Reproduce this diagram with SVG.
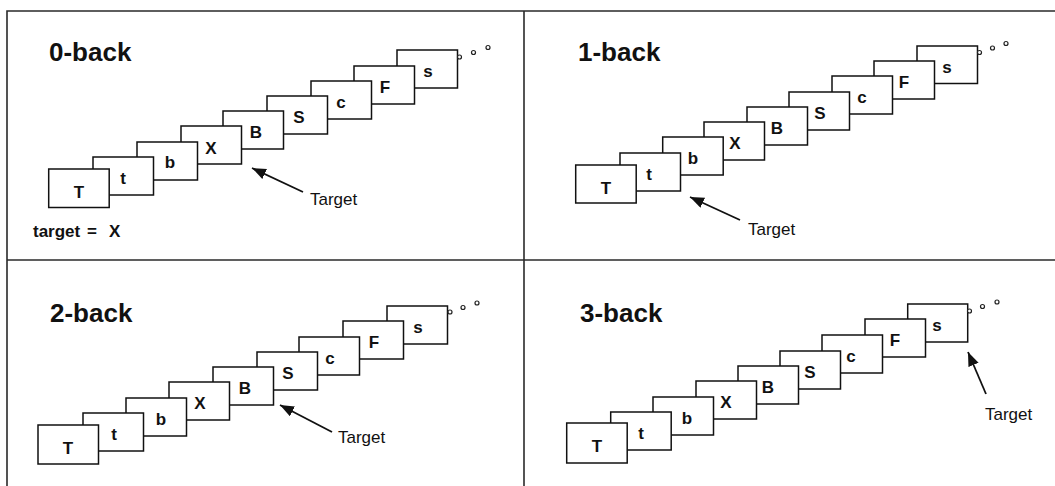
<svg xmlns="http://www.w3.org/2000/svg" width="1055" height="486" viewBox="0 0 1055 486">
<style>
.frame{stroke:#2a2a2a;stroke-width:1.6;fill:none}
.card{fill:#fff;stroke:#111;stroke-width:1.5}
.ltr{font-family:"Liberation Sans",Arial,sans-serif;font-weight:bold;font-size:17px;fill:#111;text-anchor:middle}
.title{font-family:"Liberation Sans",Arial,sans-serif;font-weight:bold;font-size:26px;fill:#111}
.lbl{font-family:"Liberation Sans",Arial,sans-serif;font-size:17px;fill:#111}
.tgt{font-family:"Liberation Sans",Arial,sans-serif;font-weight:bold;font-size:17px;fill:#111}
.dot{fill:#fff;stroke:#222;stroke-width:1.2}
.arrow{stroke:#111;stroke-width:1.8;fill:none;marker-end:url(#ah)}
</style>
<defs>
<marker id="ah" markerUnits="userSpaceOnUse" markerWidth="15" markerHeight="12" refX="14" refY="5.5" orient="auto">
<path d="M0,0 L14,5.5 L0,11 z" fill="#111"/>
</marker>
</defs>
<rect x="0" y="0" width="1055" height="486" fill="#fff"/>
<g id="frame">
<path class="frame" d="M7,486 V11 H1055"/>
<path class="frame" d="M7,260 H1055"/>
<path class="frame" d="M524,11 V486"/>
</g>

<!-- Panel 1: 0-back -->
<g id="p1">
<text class="title" x="49" y="61">0-back</text>
<g id="p1-s"><rect class="card" x="397" y="50" width="60.5" height="38"/><text class="ltr" x="428" y="77">s</text></g>
<g id="p1-F"><rect class="card" x="354" y="66" width="60.5" height="38"/><text class="ltr" x="385" y="93">F</text></g>
<g id="p1-c"><rect class="card" x="311" y="81" width="60.5" height="38"/><text class="ltr" x="341" y="108">c</text></g>
<g id="p1-S"><rect class="card" x="267" y="96" width="60.5" height="38"/><text class="ltr" x="299" y="123">S</text></g>
<g id="p1-B"><rect class="card" x="223" y="111" width="60.5" height="38"/><text class="ltr" x="256" y="138">B</text></g>
<g id="p1-X"><rect class="card" x="181" y="126" width="60.5" height="38"/><text class="ltr" x="211" y="154">X</text></g>
<g id="p1-b"><rect class="card" x="137" y="142" width="60.5" height="38"/><text class="ltr" x="170" y="168">b</text></g>
<g id="p1-t"><rect class="card" x="93" y="157" width="60.5" height="38"/><text class="ltr" x="123" y="184">t</text></g>
<g id="p1-T"><rect class="card" x="48.7" y="169" width="60.5" height="38.5"/><text class="ltr" x="79" y="198">T</text></g>
<g id="p1-dots"><circle class="dot" cx="459.5" cy="57" r="2"/><circle class="dot" cx="473.5" cy="52.5" r="2"/><circle class="dot" cx="488" cy="47.5" r="2"/></g>
<text class="lbl" x="310" y="205">Target</text>
<text class="tgt" x="33" y="237"><tspan x="33">target </tspan><tspan x="87">= </tspan><tspan x="109">X</tspan></text>
</g>

<!-- Panel 2: 1-back -->
<g id="p2">
<text class="title" x="578" y="61">1-back</text>
<g id="p2-s"><rect class="card" x="917" y="46" width="60.5" height="37.5"/><text class="ltr" x="947" y="73">s</text></g>
<g id="p2-F"><rect class="card" x="874" y="61" width="60.5" height="38"/><text class="ltr" x="904" y="88">F</text></g>
<g id="p2-c"><rect class="card" x="832" y="76" width="60.5" height="38"/><text class="ltr" x="862" y="103">c</text></g>
<g id="p2-S"><rect class="card" x="789" y="92" width="60.5" height="38"/><text class="ltr" x="820" y="119">S</text></g>
<g id="p2-B"><rect class="card" x="747" y="107" width="60.5" height="38"/><text class="ltr" x="777" y="134">B</text></g>
<g id="p2-X"><rect class="card" x="704" y="122" width="60.5" height="38"/><text class="ltr" x="735" y="149">X</text></g>
<g id="p2-b"><rect class="card" x="662.7" y="137" width="60.5" height="38"/><text class="ltr" x="693" y="164">b</text></g>
<g id="p2-t"><rect class="card" x="620" y="153" width="60.5" height="38"/><text class="ltr" x="649" y="180">t</text></g>
<g id="p2-T"><rect class="card" x="575.7" y="165" width="60.5" height="38"/><text class="ltr" x="606" y="194">T</text></g>
<g id="p2-dots"><circle class="dot" cx="979.5" cy="52.5" r="2"/><circle class="dot" cx="992.5" cy="48" r="2"/><circle class="dot" cx="1006" cy="43.5" r="2"/></g>
<text class="lbl" x="748" y="235">Target</text>
</g>

<!-- Panel 3: 2-back -->
<g id="p3">
<text class="title" x="50" y="322">2-back</text>
<g id="p3-s"><rect class="card" x="387" y="306" width="60.5" height="38"/><text class="ltr" x="418" y="333">s</text></g>
<g id="p3-F"><rect class="card" x="343" y="321" width="60.5" height="38"/><text class="ltr" x="374" y="348">F</text></g>
<g id="p3-c"><rect class="card" x="299" y="337" width="60.5" height="38"/><text class="ltr" x="330" y="364">c</text></g>
<g id="p3-S"><rect class="card" x="257" y="352" width="60.5" height="38"/><text class="ltr" x="288" y="379">S</text></g>
<g id="p3-B"><rect class="card" x="213" y="367" width="60.5" height="38"/><text class="ltr" x="245" y="394">B</text></g>
<g id="p3-X"><rect class="card" x="169" y="382" width="60.5" height="38"/><text class="ltr" x="200" y="409">X</text></g>
<g id="p3-b"><rect class="card" x="126" y="398" width="60.5" height="38"/><text class="ltr" x="161" y="425">b</text></g>
<g id="p3-t"><rect class="card" x="83" y="413" width="60.5" height="38"/><text class="ltr" x="114" y="440">t</text></g>
<g id="p3-T"><rect class="card" x="38" y="425" width="60.5" height="39"/><text class="ltr" x="68" y="454">T</text></g>
<g id="p3-dots"><circle class="dot" cx="450" cy="312" r="2"/><circle class="dot" cx="463" cy="307.5" r="2"/><circle class="dot" cx="477" cy="303" r="2"/></g>
<text class="lbl" x="338" y="443">Target</text>
</g>

<!-- Panel 4: 3-back -->
<g id="p4">
<text class="title" x="580" y="322">3-back</text>
<g id="p4-s"><rect class="card" x="907.7" y="304" width="60" height="38"/><text class="ltr" x="937" y="331">s</text></g>
<g id="p4-F"><rect class="card" x="865" y="319" width="60.5" height="38"/><text class="ltr" x="895" y="346">F</text></g>
<g id="p4-c"><rect class="card" x="822" y="335" width="60.5" height="38"/><text class="ltr" x="851" y="362">c</text></g>
<g id="p4-S"><rect class="card" x="780" y="351" width="60.5" height="38"/><text class="ltr" x="810" y="378">S</text></g>
<g id="p4-B"><rect class="card" x="738" y="366" width="60.5" height="38"/><text class="ltr" x="768" y="393">B</text></g>
<g id="p4-X"><rect class="card" x="696" y="381" width="60.5" height="38"/><text class="ltr" x="726" y="408">X</text></g>
<g id="p4-b"><rect class="card" x="653" y="397" width="60.5" height="38"/><text class="ltr" x="687" y="424">b</text></g>
<g id="p4-t"><rect class="card" x="610.7" y="412" width="60.5" height="38"/><text class="ltr" x="641" y="439">t</text></g>
<g id="p4-T"><rect class="card" x="566.7" y="423" width="60.5" height="40"/><text class="ltr" x="597" y="452">T</text></g>
<g id="p4-dots"><circle class="dot" cx="969.5" cy="311" r="2"/><circle class="dot" cx="982.5" cy="306.5" r="2"/><circle class="dot" cx="997" cy="302" r="2"/></g>
<text class="lbl" x="985" y="420">Target</text>
</g>

<g id="connectors">
<line class="arrow" x1="303" y1="192" x2="252" y2="168"/>
<line class="arrow" x1="740" y1="220" x2="690" y2="197"/>
<line class="arrow" x1="332" y1="432" x2="280" y2="405"/>
<line class="arrow" x1="986" y1="394" x2="968" y2="352"/>
</g>
</svg>
